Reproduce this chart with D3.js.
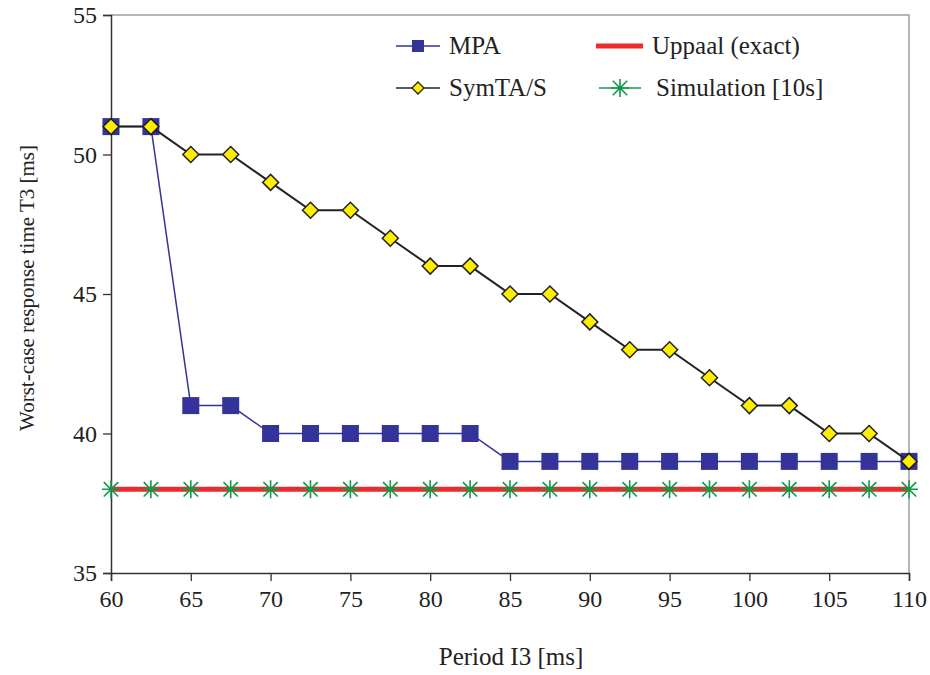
<!DOCTYPE html>
<head>
  <meta charset="utf-8">
  <script src="https://d3js.org/d3.v7.min.js"></script>
  <style>
    body { margin: 0; background: white; }
    svg text { font-family: "Liberation Serif", "Times New Roman", serif; fill: #222; }
  </style>
</head>
<body>
  <svg width="930" height="675"></svg>
  <script>
    const periods = [60, 62.5, 65, 67.5, 70, 72.5, 75, 77.5, 80, 82.5, 85, 87.5, 90, 92.5, 95, 97.5, 100, 102.5, 105, 107.5, 110];
    const mpa = [51, 51, 41, 41, 40, 40, 40, 40, 40, 40, 39, 39, 39, 39, 39, 39, 39, 39, 39, 39, 39];
    const symta = [51, 51, 50, 50, 49, 48, 48, 47, 46, 46, 45, 45, 44, 43, 43, 42, 41, 41, 40, 40, 39];
    const uppaal = [38, 38, 38, 38, 38, 38, 38, 38, 38, 38, 38, 38, 38, 38, 38, 38, 38, 38, 38, 38, 38];
    const simulation = [38, 38, 38, 38, 38, 38, 38, 38, 38, 38, 38, 38, 38, 38, 38, 38, 38, 38, 38, 38, 38];
    const xTicks = [60, 65, 70, 75, 80, 85, 90, 95, 100, 105, 110];
    const yTicks = [35, 40, 45, 50, 55];

    const svg = d3.select('svg');
    const mLeft = 111, mRight = 909, mTop = 15, mBottom = 573;

    const x = d3.scaleLinear().domain([60, 110]).range([mLeft, mRight]);
    const y = d3.scaleLinear().domain([35, 55]).range([mBottom, mTop]);

    // frame: gray top/right
    svg.append('path')
      .attr('d', `M${mLeft},${mTop}H${mRight}V${mBottom}`)
      .attr('fill', 'none').attr('stroke', '#9a9ea4').attr('stroke-width', 1.5);

    const xAxis = svg.append('g').attr('transform', `translate(0,${mBottom})`)
      .call(d3.axisBottom(x).tickValues(xTicks).tickSize(8).tickPadding(9));
    const yAxis = svg.append('g').attr('transform', `translate(${mLeft},0)`)
      .call(d3.axisLeft(y).tickValues(yTicks).tickSize(8).tickPadding(6));
    [xAxis, yAxis].forEach(a => {
      a.attr('font-family', null).attr('font-size', null);
      a.select('.domain').attr('stroke', '#333').attr('stroke-width', 1.5);
      a.selectAll('.tick line').attr('stroke', '#333').attr('stroke-width', 1.3);
      a.selectAll('text').style('font-size', '24px').style('fill', '#222');
    });

    svg.append('text').attr('x', 511).attr('y', 665).attr('text-anchor', 'middle')
      .style('font-size', '25px').text('Period I3 [ms]');
    svg.append('text').attr('transform', 'translate(34,288) rotate(-90)').attr('text-anchor', 'middle')
      .style('font-size', '21px').text('Worst-case response time T3 [ms]');

    const line = d3.line().x((d, i) => x(periods[i])).y(d => y(d));

    // Uppaal
    svg.append('path').datum(uppaal).attr('d', line)
      .attr('fill', 'none').attr('stroke', '#ee2a2e').attr('stroke-width', 5);

    // Simulation asterisks
    const star = (g, cx, cy) => {
      const r = 9;
      g.append('path')
        .attr('d', `M${cx - r},${cy}H${cx + r}M${cx},${cy - r}V${cy + r}M${cx - r * 0.8},${cy - r * 0.8}L${cx + r * 0.8},${cy + r * 0.8}M${cx - r * 0.8},${cy + r * 0.8}L${cx + r * 0.8},${cy - r * 0.8}`)
        .attr('stroke', '#109a48').attr('stroke-width', 1.6).attr('fill', 'none');
    };
    const simG = svg.append('g');
    simulation.forEach((v, i) => star(simG, x(periods[i]), y(v)));

    // MPA
    svg.append('path').datum(mpa).attr('d', line)
      .attr('fill', 'none').attr('stroke', '#333399').attr('stroke-width', 1.5);
    svg.append('g').selectAll('rect').data(mpa).join('rect')
      .attr('x', (d, i) => x(periods[i]) - 8.5).attr('y', d => y(d) - 8.5)
      .attr('width', 17).attr('height', 17).attr('fill', '#333399');

    // SymTA/S
    svg.append('path').datum(symta).attr('d', line)
      .attr('fill', 'none').attr('stroke', '#222').attr('stroke-width', 2);
    const diamond = (cx, cy, r) => `M${cx},${cy - r}L${cx + r},${cy}L${cx},${cy + r}L${cx - r},${cy}Z`;
    svg.append('g').selectAll('path').data(symta).join('path')
      .attr('d', (d, i) => diamond(x(periods[i]), y(d), 8))
      .attr('fill', '#ffee00').attr('stroke', '#222').attr('stroke-width', 1.5);

    // legend
    const lg = svg.append('g');
    lg.append('line').attr('x1', 396).attr('x2', 440).attr('y1', 46).attr('y2', 46).attr('stroke', '#333399').attr('stroke-width', 1.5);
    lg.append('rect').attr('x', 412).attr('y', 40).attr('width', 12).attr('height', 12).attr('fill', '#333399');
    lg.append('text').attr('x', 449).attr('y', 54).style('font-size', '25px').text('MPA');

    lg.append('line').attr('x1', 396).attr('x2', 440).attr('y1', 88).attr('y2', 88).attr('stroke', '#222').attr('stroke-width', 1.5);
    lg.append('path').attr('d', diamond(418, 88, 6)).attr('fill', '#ffee00').attr('stroke', '#222').attr('stroke-width', 1.3);
    lg.append('text').attr('x', 449).attr('y', 96).style('font-size', '25px').text('SymTA/S');

    lg.append('line').attr('x1', 596).attr('x2', 643).attr('y1', 46).attr('y2', 46).attr('stroke', '#ee2a2e').attr('stroke-width', 5);
    lg.append('text').attr('x', 652).attr('y', 54).style('font-size', '25px').text('Uppaal (exact)');

    lg.append('line').attr('x1', 599).attr('x2', 641).attr('y1', 88).attr('y2', 88).attr('stroke', '#109a48').attr('stroke-width', 1.5);
    star(lg, 620, 88);
    lg.append('text').attr('x', 656).attr('y', 96).style('font-size', '25px').text('Simulation [10s]');
  </script>
</body>
